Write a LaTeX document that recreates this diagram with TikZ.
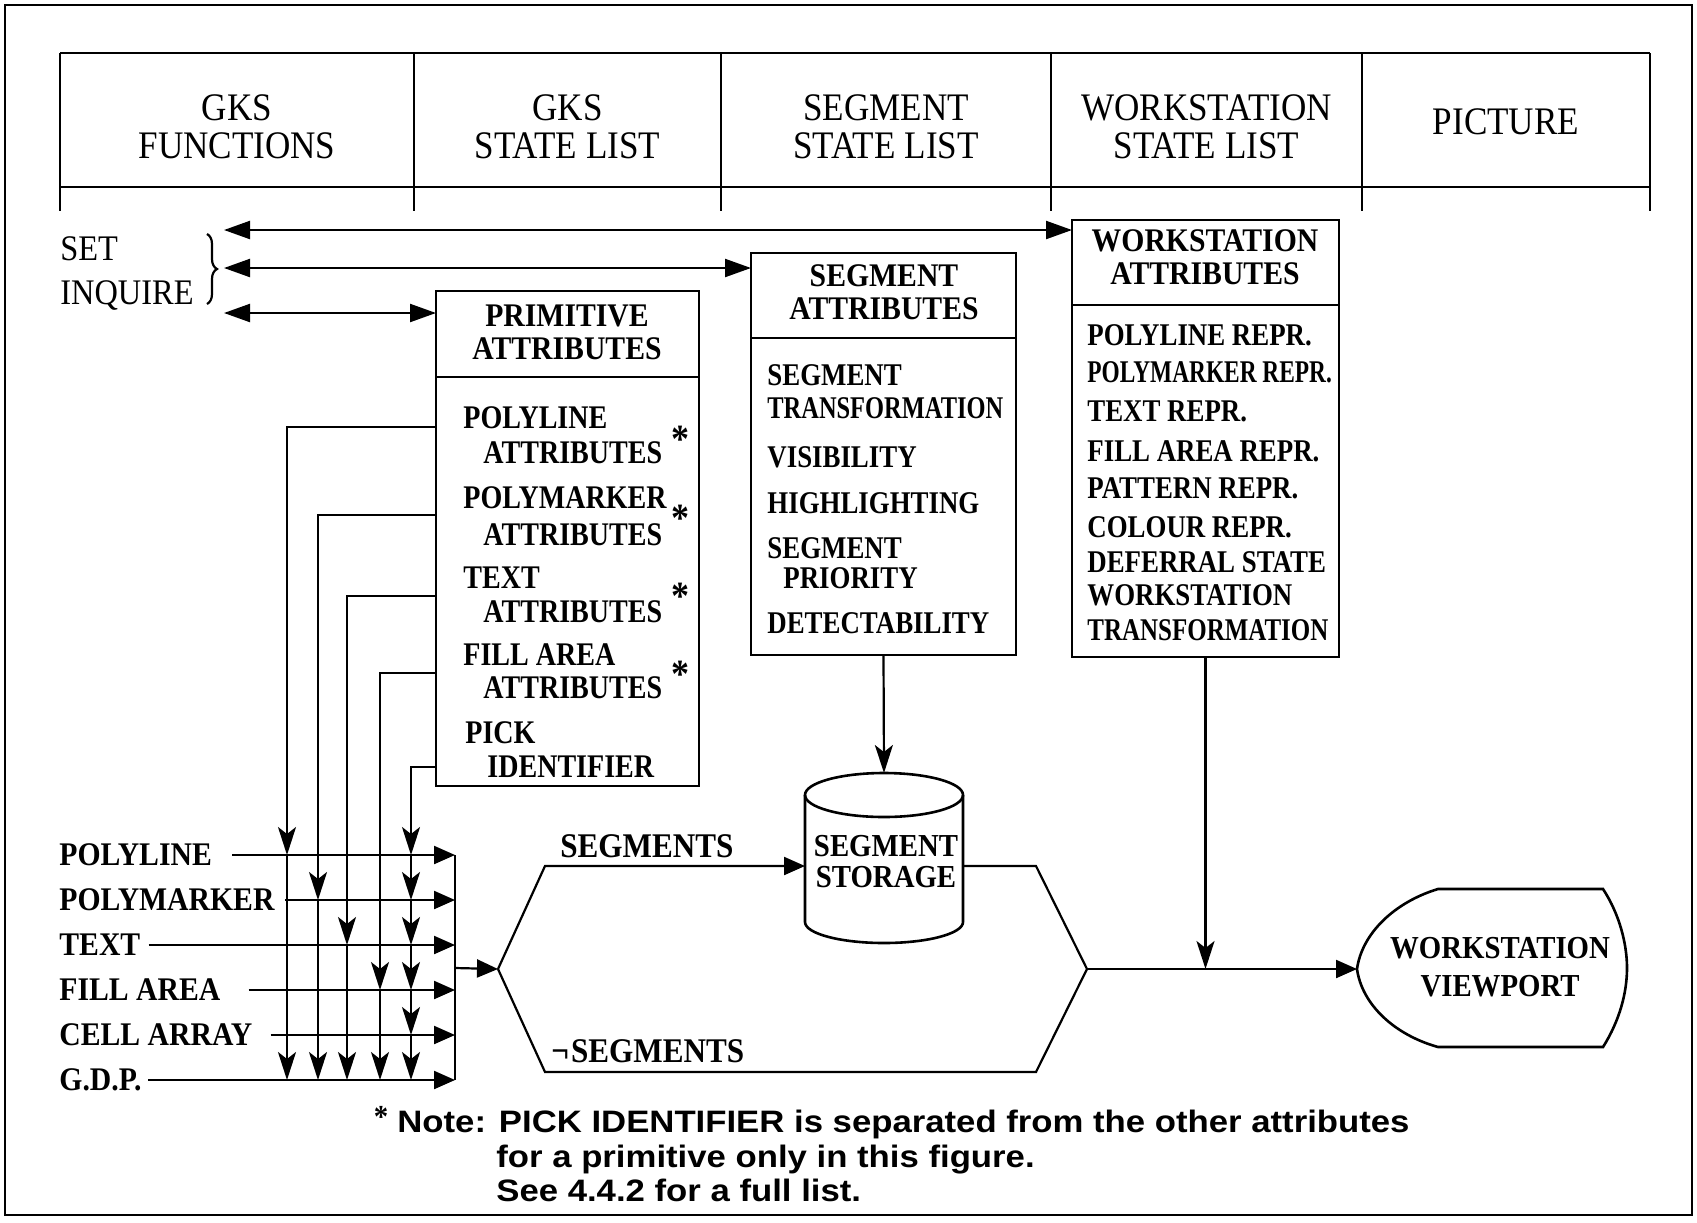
\documentclass[tikz,border=0pt]{standalone}
\usepackage{fontspec}
\usepackage{graphicx}
\setmainfont{Liberation Serif}[FakeStretch=0.9]
\newfontfamily\itemfont{Liberation Serif}[FakeStretch=0.85]
\newfontfamily\notefont{Liberation Sans}[FakeStretch=1.12]
\usetikzlibrary{arrows.meta,decorations.pathreplacing,calc}
\begin{document}
\begin{tikzpicture}[x=0.5pt,y=-0.5pt,
  frame/.style={line width=1.3pt},
  box/.style={draw,line width=1.3pt,anchor=north west,inner sep=0pt,outer sep=0pt},
  conn/.style={line width=1.1pt},
  tri/.style={conn,-{Triangle[length=10.5pt,width=9pt]}},
  dtri/.style={conn,{Triangle[length=13pt,width=9pt]}-{Triangle[length=13pt,width=9pt]}},
  dart/.style={conn,-{Stealth[length=14pt,width=9pt,inset=3.5pt]}},
  colhead/.style={align=center,inner sep=0pt,font=\fontsize{19.5pt}{19pt}\selectfont},
  bxhead/.style={align=center,inner sep=0pt,font=\bfseries\fontsize{16.5pt}{16.5pt}\selectfont},
  item/.style={anchor=base west,inner sep=0pt,text height=10.6pt,text depth=0pt,
    font=\itemfont\bfseries\fontsize{15.8pt}{15.8pt}\selectfont},
  pitem/.style={anchor=base west,inner sep=0pt,text height=11pt,text depth=0pt,
    font=\itemfont\bfseries\fontsize{16.5pt}{16.5pt}\selectfont},
  star/.style={anchor=base,inner sep=0pt,font=\bfseries\fontsize{20pt}{20pt}\selectfont},
  rowlbl/.style={anchor=west,inner sep=0pt,font=\bfseries\fontsize{16.5pt}{16.5pt}\selectfont},
  lbl/.style={anchor=base west,inner sep=0pt,font=\bfseries\fontsize{17.3pt}{17.3pt}\selectfont},
  silbl/.style={anchor=base west,inner sep=0pt,font=\fontsize{18pt}{18pt}\selectfont},
  note/.style={anchor=base west,inner sep=0pt,font=\notefont\bfseries\fontsize{15.5pt}{15.5pt}\selectfont}
]
\useasboundingbox (0,0) rectangle (1697,1222);
\fill[white] (0,0) rectangle (1697,1222);
% outer frame
\draw[frame] (5,5) rectangle (1692,1215);

% header table
\draw[frame] (60,53) -- (1650,53) (60,187) -- (1650,187);
\foreach \x in {60,414,721,1051,1362,1650} \draw[frame] (\x,53) -- (\x,211);
\node[colhead] (h1) at (237,126.5) {GKS\\FUNCTIONS};
\node[colhead] (h2) at (567.5,126.5) {GKS\\STATE LIST};
\node[colhead] (h3) at (886,126.5) {SEGMENT\\STATE LIST};
\node[colhead] (h4) at (1206.5,126.5) {WORKSTATION\\STATE LIST};
\node[colhead] (h5) at (1506,122) {PICTURE};

% boxes
\node[box,minimum width=131.5pt,minimum height=247.5pt] (prim) at (436,291) {};
\node[box,minimum width=132.5pt,minimum height=201pt] (seg) at (751,253) {};
\node[box,minimum width=133.5pt,minimum height=218.5pt] (ws) at (1072,220) {};
\draw[frame] (prim.west |- 0,377) -- (prim.east |- 0,377);
\draw[frame] (seg.west |- 0,338) -- (seg.east |- 0,338);
\draw[frame] (ws.west |- 0,305) -- (ws.east |- 0,305);
\node[bxhead] (primH) at (567,332) {PRIMITIVE\\ATTRIBUTES};
\node[bxhead] (segH) at (884,292) {SEGMENT\\ATTRIBUTES};
\node[bxhead] (wsH) at (1205,257) {WORKSTATION\\ATTRIBUTES};

% primitive attribute items
\node[pitem] (p1a) at (463,428) {POLYLINE};
\node[pitem] (p1b) at (483,463) {ATTRIBUTES};
\node[star] (p1s) at (680,452) {*};
\node[pitem] (p2a) at (463,508) {POLYMARKER};
\node[pitem] (p2b) at (483,545) {ATTRIBUTES};
\node[star] (p2s) at (680,531) {*};
\node[pitem] (p3a) at (463,588) {TEXT};
\node[pitem] (p3b) at (483,622) {ATTRIBUTES};
\node[star] (p3s) at (680,609) {*};
\node[pitem] (p4a) at (463,665) {FILL AREA};
\node[pitem] (p4b) at (483,698) {ATTRIBUTES};
\node[star] (p4s) at (680,687) {*};
\node[pitem] (p5a) at (465,743) {PICK};
\node[pitem] (p5b) at (487,777) {IDENTIFIER};

% segment attribute items
\node[item] (s1a) at (767,385) {SEGMENT};
\node[item] (s1b) at (767,418) {\scalebox{0.91}[1]{TRANSFORMATION}};
\node[item] (s2) at (767,467) {VISIBILITY};
\node[item] (s3) at (767,513) {HIGHLIGHTING};
\node[item] (s4a) at (767,558) {SEGMENT};
\node[item] (s4b) at (783,588) {PRIORITY};
\node[item] (s5) at (767,633) {DETECTABILITY};

% workstation attribute items
\node[item] (w1) at (1087,345) {POLYLINE REPR.};
\node[item] (w2) at (1087,382) {\scalebox{0.87}[1]{POLYMARKER REPR.}};
\node[item] (w3) at (1087,421) {TEXT REPR.};
\node[item] (w4) at (1087,461) {FILL AREA REPR.};
\node[item] (w5) at (1087,498) {PATTERN REPR.};
\node[item] (w6) at (1087,537) {COLOUR REPR.};
\node[item] (w7) at (1087,572) {DEFERRAL STATE};
\node[item] (w8a) at (1087,605) {WORKSTATION};
\node[item] (w8b) at (1087,640) {\scalebox{0.93}[1]{TRANSFORMATION}};

% SET / INQUIRE
\node[silbl] (set) at (60,260) {SET};
\node[silbl] (inq) at (60,304) {INQUIRE};
\draw[conn,decorate,decoration={brace,amplitude=5pt}] (207,234) -- (207,304);
\coordinate (si1) at (224,230);
\coordinate (si2) at (224,268);
\coordinate (si3) at (224,313);
\draw[dtri] (si1) -- (si1 -| ws.west);
\draw[dtri] (si2) -- (si2 -| seg.west);
\draw[dtri] (si3) -- (si3 -| prim.west);

% output primitives rows
\foreach \n/\t/\y/\g in {PL/POLYLINE/855/10pt, PM/POLYMARKER/900/5pt, TX/TEXT/945/4pt, FA/FILL AREA/990/14pt, CA/CELL ARRAY/1035/9pt, GD/G.D.P./1080/3pt} {
  \node[rowlbl] (l\n) at (59,\y) {\t};
  \coordinate (e\n) at (455,\y);
  \draw[tri] ([xshift=\g]l\n.east) -- (e\n);
}
\draw[frame] (ePL) -- (eGD);

% attribute feeds
\foreach \n/\x/\y/\r in {PL/287/427/855, PM/318/515/900, TX/347/596/945, FA/380/673/990} {
  \coordinate (s\n) at (436,\y);
  \coordinate (j\n) at (\x,\r);
  \coordinate (g\n) at (\x,1080);
  \draw[dart] (s\n) -| (j\n);
  \draw[dart] (j\n) -- (g\n);
}
\coordinate (sPI) at (436,767);
\coordinate (jPI) at (411,855);
\draw[dart] (sPI) -| (jPI);
\foreach \a/\b in {855/900,900/945,945/990,990/1035,1035/1080} {
  \draw[dart] (411,\a) -- (411,\b);
}

% hexagon and storage
\coordinate (barM) at (455,968);
\coordinate (hexL) at (498,969);
\coordinate (hexUL) at (545,866);
\coordinate (cylW) at (805,866);
\coordinate (cylE) at (963,866);
\coordinate (hexUR) at (1036,866);
\coordinate (hexR) at (1087,969);
\coordinate (hexLR) at (1036,1072);
\coordinate (hexLL) at (545,1072);
\draw[tri] (barM) -- (hexL);
\draw[tri] (hexL) -- (hexUL) -- (cylW);
\draw[conn] (cylE) -- (hexUR) -- (hexR) -- (hexLR) -- (hexLL) -- (hexL);
\node[lbl] (segsU) at (560,857) {SEGMENTS};
\node[lbl] (segsL) at (551,1062) {¬\kern1pt SEGMENTS};

% cylinder
\draw[frame] (805,795) -- (805,922) arc[start angle=180,end angle=360,x radius=39.5pt,y radius=10.5pt] -- (963,795);
\draw[frame] (884,795) ellipse [x radius=39.5pt,y radius=11pt];
\node[bxhead,font=\bfseries\fontsize{16pt}{15.5pt}\selectfont] (stor) at (886,862) {SEGMENT\\STORAGE};
\coordinate (cylTop) at (884,773);
\draw[dart] (seg.south) -- (cylTop);

% workstation viewport
\coordinate (vpL) at (1357,969);
\draw[frame] (1438,889) -- (1603,889) .. controls (1620,915) and (1627,945) .. (1627,968)
  .. controls (1627,992) and (1620,1020) .. (1603,1047) -- (1438,1047)
  .. controls (1395,1035) and (1362,1005) .. (vpL)
  .. controls (1362,933) and (1395,902) .. (1438,889) -- cycle;
\node[bxhead,font=\bfseries\fontsize{16pt}{19pt}\selectfont] (vp) at (1500,967.5) {WORKSTATION\\VIEWPORT};
\coordinate (wsJoin) at (ws.south |- hexR);
\draw[dart] (ws.south) -- (wsJoin);
\draw[tri] (hexR) -- (vpL);

% note
\node[anchor=base,inner sep=0pt,font=\bfseries\fontsize{16pt}{16pt}\selectfont] (nstar) at (381,1127) {*};
\node[note] (n1) at (397,1132) {Note: PICK IDENTIFIER is separated from the other attributes};
\node[note] (n2) at (496,1167) {for a primitive only in this figure.};
\node[note] (n3) at (496,1201) {See 4.4.2 for a full list.};
\end{tikzpicture}
\end{document}
